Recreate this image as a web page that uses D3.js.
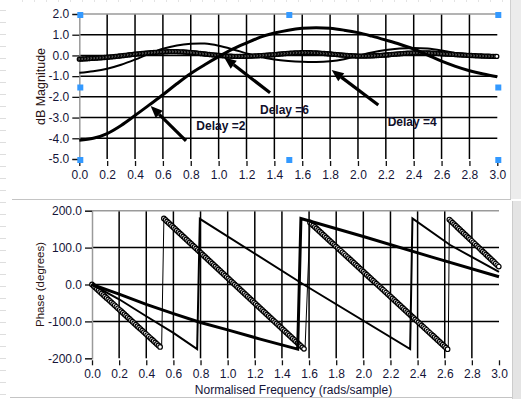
<!DOCTYPE html>
<html>
<head>
<meta charset="utf-8">
<script src="https://cdn.jsdelivr.net/npm/d3@7"></script>
<style>
  body { margin: 0; background: #fff; }
  svg { display: block; }
  text { font-family: "Liberation Sans", Arial, sans-serif; }
</style>
</head>
<body>
<svg id="chart" width="521" height="399"></svg>
<script>
// magnitude response (dB)
const freq = [0.0,0.1,0.2,0.3,0.4,0.5,0.6,0.7,0.8,0.9,1.0,1.1,1.2,1.3,1.4,1.5,1.6,1.7,1.8,1.9,2.0,2.1,2.2,2.3,2.4,2.5,2.6,2.7,2.8,2.9,3.0];
const magThick = [-4.1,-4.0,-3.77,-3.38,-2.9,-2.4,-1.9,-1.37,-0.87,-0.45,-0.06,0.3,0.6,0.88,1.08,1.22,1.31,1.34,1.31,1.22,1.1,0.93,0.74,0.54,0.31,0.02,-0.28,-0.53,-0.74,-0.9,-1.03];
const magThin  = [-0.84,-0.76,-0.64,-0.45,-0.2,0.08,0.32,0.48,0.56,0.57,0.47,0.3,0.1,-0.08,-0.2,-0.27,-0.31,-0.32,-0.28,-0.18,-0.02,0.14,0.26,0.33,0.36,0.33,0.24,0.12,0.03,-0.03,-0.06];
const magRings = [-0.18,-0.14,-0.09,-0.02,0.06,0.12,0.17,0.18,0.14,0.07,0.0,-0.04,-0.04,-0.01,0.04,0.1,0.13,0.12,0.07,0.01,-0.03,-0.02,0.02,0.08,0.12,0.12,0.08,0.04,0.0,-0.03,-0.05];

// phase response (degrees), [frequency, phase]
const phaseThick = [[0,0],[0.2,-26],[0.4,-54],[0.6,-79],[0.8,-103],[1.0,-123],[1.24,-148],[1.516,-175],[1.54,179],[2.0,130],[2.5,75],[3.0,21]];
const phaseThin  = [[0,0],[0.2,-40],[0.4,-86],[0.6,-131],[0.775,-175],[0.795,178],[1.56,0],[2.345,-175],[2.362,179],[2.64,107],[3.0,34]];
const phaseRings = [[0,0],[0.513,-173],[0.53,179],[1.57,-177],[1.607,168],[2.626,-177],[2.634,176],[3.0,48]];

const xTicks = [0.0,0.2,0.4,0.6,0.8,1.0,1.2,1.4,1.6,1.8,2.0,2.2,2.4,2.6,2.8,3.0];
const magTicks = [2,1,0,-1,-2,-3,-4,-5];
const phaseTicks = [200,100,0,-100,-200];

// annotations: arrow tail, arrow head, label position (data units of top graph)
const notes = [
  { label: "Delay =2", tail: [0.766,-4.12], head: [0.512,-2.44], at: [0.84,-3.62] },
  { label: "Delay =6", tail: [1.369,-1.80], head: [1.04,-0.10],  at: [1.297,-2.82] },
  { label: "Delay =4", tail: [2.146,-2.39], head: [1.811,-0.70], at: [2.213,-3.42] }
];

const svg = d3.select("#chart");
const fmt = d => d3.format(".1f")(d).replace("\u2212", "-");

// page furniture: ruler dashes, frame edges
const furn = svg.append("g");
furn.selectAll(null).data(d3.range(10, 399, 12)).join("line")
  .attr("x1", 0).attr("x2", 6).attr("y1", d => d + 0.5).attr("y2", d => d + 0.5)
  .attr("stroke", "#dedede");
furn.selectAll(null).data(d3.range(22, 510, 12)).join("line")
  .attr("x1", d => d + 0.5).attr("x2", d => d + 0.5).attr("y1", 0).attr("y2", 2)
  .attr("stroke", "#e4e4e4");
furn.append("rect").attr("x", 510).attr("y", 0).attr("width", 11).attr("height", 199).attr("fill", "#ececec");
furn.append("line").attr("x1", 510.5).attr("x2", 510.5).attr("y1", 0).attr("y2", 199).attr("stroke", "#d0d0d0");
furn.append("line").attr("x1", 12).attr("x2", 511).attr("y1", 199.5).attr("y2", 199.5).attr("stroke", "#c4c4c4");
furn.append("rect").attr("x", 512).attr("y", 201).attr("width", 9).attr("height", 198).attr("fill", "#e4e4e4");
furn.append("line").attr("x1", 512.5).attr("x2", 512.5).attr("y1", 201).attr("y2", 399).attr("stroke", "#cccccc");
furn.append("line").attr("x1", 10).attr("x2", 512).attr("y1", 397.5).attr("y2", 397.5).attr("stroke", "#c4c4c4");

function make_graph(x, y, yTicks, title, titleX, titleSize) {
  const g = svg.append("g");
  const [x0, x1] = x.range();
  const [y0, y1] = y.range();

  // grid
  g.selectAll(null).data(xTicks.slice(1, -1)).join("line")
    .attr("x1", d => x(d)).attr("x2", d => x(d)).attr("y1", y0).attr("y2", y1)
    .attr("stroke", "#000").attr("stroke-width", 1.5);
  g.selectAll(null).data(yTicks.slice(1, -1)).join("line")
    .attr("x1", x0).attr("x2", x1).attr("y1", d => y(d)).attr("y2", d => y(d))
    .attr("stroke", "#000").attr("stroke-width", 1.5);
  g.append("line").attr("x1", x0).attr("x2", x1).attr("y1", y0).attr("y2", y0)
    .attr("stroke", "#9a9a9a").attr("stroke-width", 1.5);

  const yAxis = g.append("g")
    .attr("transform", "translate(" + x0 + ",0)")
    .call(d3.axisLeft(y).tickValues(yTicks).tickFormat(fmt).tickSize(7).tickPadding(3));
  yAxis.select(".domain").attr("stroke", "#9a9a9a").attr("stroke-width", 1.5);

  const xAxis = g.append("g")
    .attr("transform", "translate(0," + (y1 + 2) + ")")
    .call(d3.axisBottom(x).tickValues(xTicks).tickFormat(fmt).tickSize(5).tickPadding(4));
  xAxis.select(".domain").remove();

  g.selectAll(".tick line").attr("stroke", "#111").attr("stroke-width", 1.3);
  g.selectAll(".tick text").attr("font-family", "Liberation Sans, Arial, sans-serif")
    .attr("font-size", 12).attr("fill", "#141438");

  g.append("text")
    .attr("transform", "translate(" + titleX + "," + ((y0 + y1) / 2) + ") rotate(-90)")
    .attr("text-anchor", "middle").attr("dy", "0.35em")
    .attr("font-size", titleSize).attr("fill", "#2a1414")
    .text(title);
  return g;
}

function rings(g, node, step, r, sw) {
  const len = node.getTotalLength();
  g.selectAll(null).data(d3.range(0, len, step).map(l => node.getPointAtLength(l))).join("circle")
    .attr("cx", p => p.x).attr("cy", p => p.y).attr("r", r)
    .attr("fill", "#fff").attr("stroke", "#000").attr("stroke-width", sw);
}

function handles(x, y) {
  const xs = [x.domain()[0], (x.domain()[0] + x.domain()[1]) / 2, x.domain()[1]];
  const ys = [y.domain()[0], (y.domain()[0] + y.domain()[1]) / 2, y.domain()[1]];
  const pts = [];
  xs.forEach((a, i) => ys.forEach((b, j) => { if (!(i === 1 && j === 1)) pts.push([a, b]); }));
  svg.append("g").selectAll(null).data(pts).join("rect")
    .attr("x", d => x(d[0]) - 2).attr("y", d => y(d[1]) - 2)
    .attr("width", 6).attr("height", 6).attr("fill", "#3399ff");
}

// ---------- top: magnitude ----------
const xMag = d3.scaleLinear().domain([0, 3]).range([79.3, 497.3]);
const yMag = d3.scaleLinear().domain([2, -5]).range([14, 159]);
const gMag = make_graph(xMag, yMag, magTicks, "dB Magnitude", 40.5, 12.5);

const magLine = d3.line().curve(d3.curveCatmullRom)
  .x((d, i) => xMag(freq[i])).y(d => yMag(d));

gMag.append("path").datum(magThin).attr("d", magLine)
  .attr("fill", "none").attr("stroke", "#000").attr("stroke-width", 2);
const ringPath = gMag.append("path").datum(magRings).attr("d", magLine)
  .attr("fill", "none").attr("stroke", "#000").attr("stroke-width", 1);
rings(gMag.append("g"), ringPath.node(), 1.5, 2.0, 1.3);
gMag.append("path").datum(magThick).attr("d", magLine)
  .attr("fill", "none").attr("stroke", "#000").attr("stroke-width", 3);

// arrows + labels
notes.forEach(n => {
  const t = [xMag(n.tail[0]), yMag(n.tail[1])];
  const h = [xMag(n.head[0]), yMag(n.head[1])];
  const ang = Math.atan2(h[1] - t[1], h[0] - t[0]);
  const L = 12, W = 5;
  const b = [h[0] - L * Math.cos(ang), h[1] - L * Math.sin(ang)];
  gMag.append("line").attr("x1", t[0]).attr("y1", t[1]).attr("x2", b[0]).attr("y2", b[1])
    .attr("stroke", "#000").attr("stroke-width", 3.2);
  gMag.append("path")
    .attr("d", "M" + h + "L" + [b[0] + W * Math.sin(ang), b[1] - W * Math.cos(ang)] +
               "L" + [b[0] - W * Math.sin(ang), b[1] + W * Math.cos(ang)] + "Z")
    .attr("fill", "#000");
  gMag.append("text").attr("x", xMag(n.at[0])).attr("y", yMag(n.at[1]))
    .attr("font-size", 12).attr("font-weight", "bold").attr("fill", "#10102a")
    .text(n.label);
});
handles(xMag, yMag);

// ---------- bottom: phase ----------
const xPh = d3.scaleLinear().domain([0, 3]).range([92, 499]);
const yPh = d3.scaleLinear().domain([200, -200]).range([210.7, 358.3]);
const gPh = make_graph(xPh, yPh, phaseTicks, "Phase (degrees)", 40, 11.5);

const phLine = d3.line().x(d => xPh(d[0])).y(d => yPh(d[1]));

gPh.append("path").datum(phaseRings).attr("d", phLine)
  .attr("fill", "none").attr("stroke", "#000").attr("stroke-width", 1);
// rings sit on the falling runs only, not on the wrap jumps
const runs = [];
phaseRings.forEach((p, i) => {
  if (i === 0 || p[1] > phaseRings[i - 1][1]) runs.push([p]);
  else runs[runs.length - 1].push(p);
});
runs.forEach(run => {
  const p = gPh.append("path").datum(run).attr("d", phLine).attr("fill", "none").attr("stroke", "none");
  rings(gPh.append("g"), p.node(), 2.2, 2.3, 1.2);
});
gPh.append("path").datum(phaseThin).attr("d", phLine)
  .attr("fill", "none").attr("stroke", "#000").attr("stroke-width", 2);
gPh.append("path").datum(phaseThick).attr("d", phLine)
  .attr("fill", "none").attr("stroke", "#000").attr("stroke-width", 3);

gPh.append("text").attr("x", (xPh(0) + xPh(3)) / 2 - 2).attr("y", 394)
  .attr("text-anchor", "middle").attr("font-size", 12).attr("fill", "#141438")
  .text("Normalised Frequency (rads/sample)");
</script>
</body>
</html>
